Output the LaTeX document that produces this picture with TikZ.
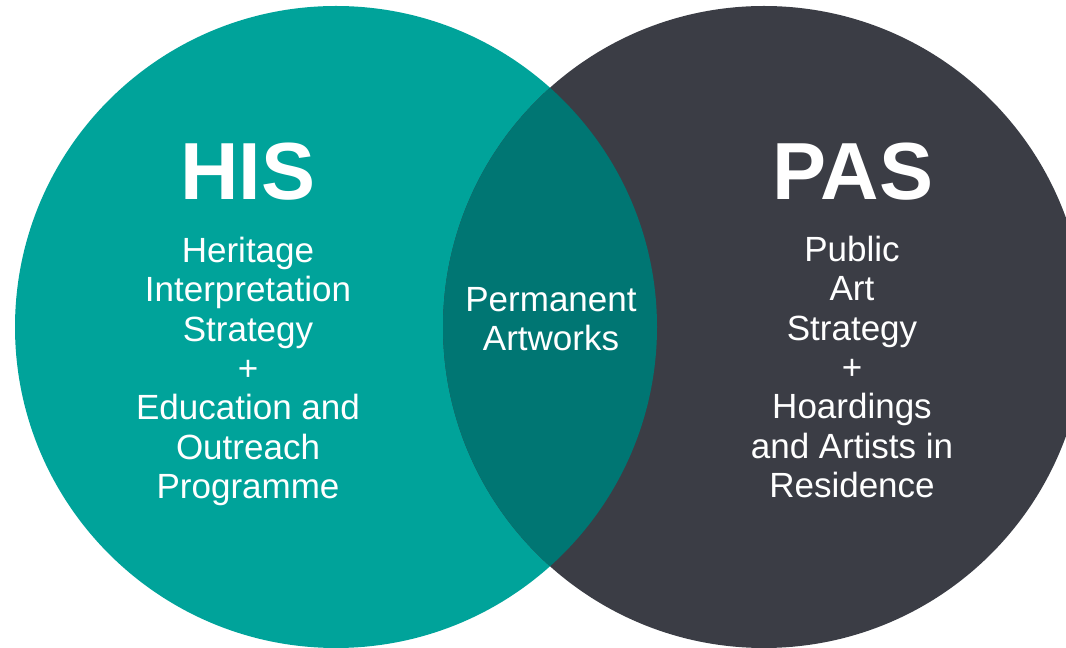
\documentclass[tikz,border=0pt]{standalone}
\usepackage{fontspec}
\setmainfont{Liberation Sans}
\usepackage{tikz}
\definecolor{histeal}{HTML}{00A39A}
\definecolor{pasgrey}{HTML}{3B3D45}
\definecolor{lensteal}{HTML}{007673}

\begin{document}
\begin{tikzpicture}[x=1pt, y=1pt,
    title/.style={text=white, inner sep=0pt, anchor=base, font=\fontsize{81}{81}\selectfont\bfseries},
    body/.style={text=white, inner sep=0pt, anchor=base, align=center, font=\fontsize{35}{39.3}\selectfont}
]

\useasboundingbox (0,0) rectangle (1066,648);
\clip (0,0) rectangle (1066,648);

% the two sets
\fill[histeal] (336,321) circle (321);
\fill[pasgrey] (764,321) circle (321);

% overlap
\begin{scope}
    \clip (336,321) circle (321);
    \fill[lensteal] (764,321) circle (321);
\end{scope}

\node[title] (his) at (248, 448) {HIS};
\node[title] (pas) at (853, 448) {PAS};

\node[body, anchor=north] (hisbody) at (248, 411) {Heritage\\Interpretation\\Strategy\\+\\Education and\\Outreach\\Programme};
\node[body, anchor=north] (pasbody) at (852, 412) {Public\\Art\\Strategy\\+\\Hoardings\\and Artists in\\Residence};
\node[body, anchor=north] (both) at (551, 361) {Permanent\\Artworks};

\end{tikzpicture}
\end{document}
